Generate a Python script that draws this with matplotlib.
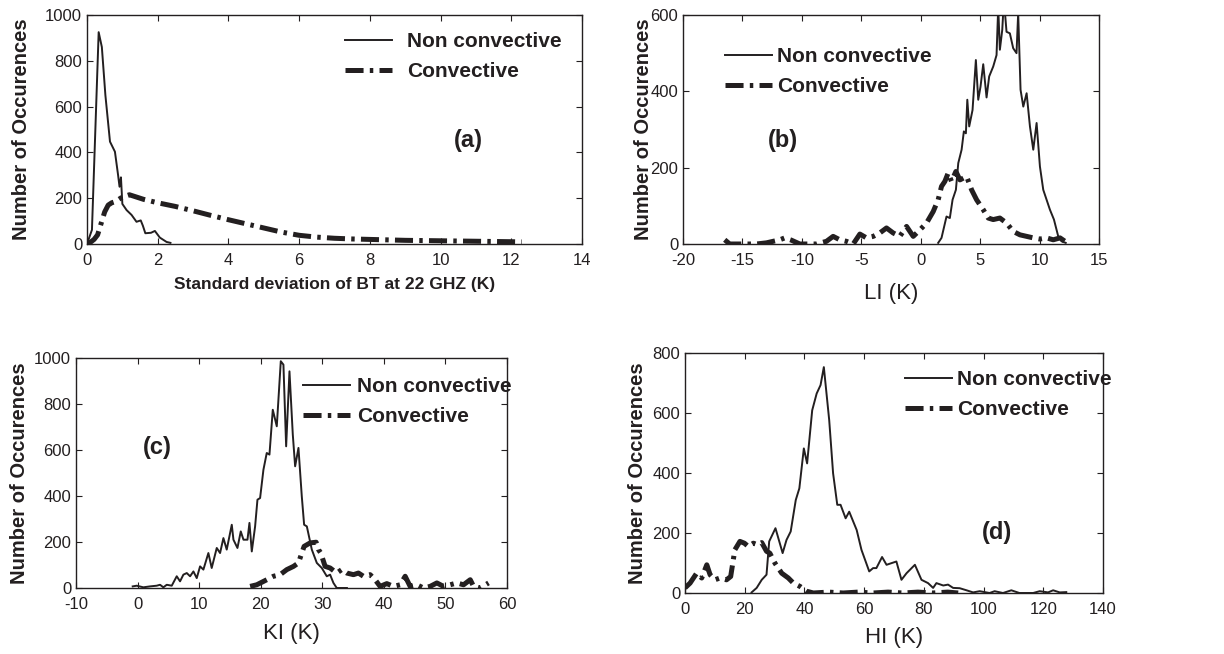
import matplotlib
matplotlib.use("Agg")
import matplotlib.pyplot as plt

plt.rcParams['font.family'] = ['Liberation Sans', 'DejaVu Sans']
plt.rcParams['lines.scale_dashes'] = False
plt.rcParams['axes.unicode_minus'] = False

INK = '#231f20'
W, H = 1224, 654

# ---- (a) standard deviation of BT at 22 GHz ----
sd_non_x = [0.0, 0.14, 0.33, 0.42, 0.52, 0.65, 0.79, 0.88, 0.92, 0.96, 1.0, 1.12,
            1.26, 1.40, 1.52, 1.58, 1.65, 1.81, 1.92, 2.06, 2.25, 2.36]
sd_non_y = [0, 62, 925, 860, 650, 447, 403, 300, 250, 291, 175, 148,
            127, 97, 103, 80, 47, 49, 57, 28, 9, 5]
sd_conv_x = [0, 0.1, 0.2, 0.3, 0.4, 0.5, 0.6, 0.7, 0.8, 0.9, 1.0, 1.2, 1.6, 2.0, 2.5,
             3.0, 3.5, 4.0, 4.5, 5.0, 5.5, 6.0, 6.5, 7.0, 7.5, 8.0, 8.5, 9.0, 9.5,
             10, 10.5, 11, 11.5, 12, 12.3]
sd_conv_y = [0, 8, 20, 40, 90, 140, 170, 180, 185, 195, 205, 215, 195, 180, 164,
             145, 125, 106, 88, 70, 52, 38, 30, 25, 22, 20, 18, 16, 15,
             14, 13, 12, 11, 10, 9]

# ---- (b) lifted index ----
li_non_x = [1.47, 1.75, 2.17, 2.45, 2.68, 2.96, 3.16, 3.44, 3.63, 3.80, 3.92, 4.08,
            4.36, 4.64, 4.84, 5.03, 5.26, 5.54, 5.76, 6.10, 6.38, 6.52, 6.66, 6.86,
            7.0, 7.22, 7.50, 7.78, 8.06, 8.2, 8.40, 8.63, 8.91, 9.19, 9.47, 9.75,
            10.03, 10.31, 10.59, 10.87, 11.21, 11.57, 11.86, 12.2]
li_non_y = [3, 16, 72, 68, 116, 142, 212, 247, 295, 290, 378, 308,
            351, 482, 378, 412, 471, 384, 439, 465, 495, 620, 509, 561,
            640, 556, 552, 513, 500, 605, 404, 360, 395, 308, 247, 317,
            203, 142, 116, 90, 64, 20, 7, 3]
li_conv_x = [-16.49, -16.07, -14.95, -13.83, -12.98, -11.86, -11.44, -10.88, -10.17,
             -8.77, -7.93, -7.37, -6.81, -6.25, -5.68, -5.12, -4.56, -4.0, -3.44,
             -2.88, -2.32, -1.76, -1.19, -0.63, -0.07, 0.49, 1.05, 1.47, 1.75, 2.03,
             2.31, 2.59, 2.96, 3.30, 3.86, 4.28, 4.70, 5.26, 5.68, 6.10, 6.66, 7.22,
             7.78, 8.35, 8.91, 9.47, 10.03, 10.59, 11.15, 11.72, 12.28]
li_conv_y = [11, 0, 0, 0, 3, 11, 16, 10, 0,
             0, 7, 20, 11, 7, 0, 26, 16, 20, 29,
             42, 29, 20, 46, 20, 37, 55, 85, 116, 151, 164,
             186, 164, 190, 168, 177, 142, 116, 90, 68, 64, 68, 55,
             33, 24, 20, 16, 13, 16, 11, 16, 4]

# ---- (c) K index ----
ki_non_x = [-0.79, -0.14, 0.94, 2.03, 3.11, 3.65, 4.19, 4.74, 5.55, 6.36, 6.90, 7.44,
            7.99, 8.53, 9.07, 9.61, 10.15, 10.69, 11.5, 12.04, 12.86, 13.40, 13.94,
            14.48, 15.30, 15.57, 16.22, 16.76, 17.2, 17.85, 18.17, 18.55, 19.09,
            19.47, 19.9, 20.44, 20.98, 21.42, 21.96, 22.61, 23.26, 23.69, 24.13,
            24.67, 25.21, 25.59, 26.13, 26.67, 27.05, 27.49, 28.30, 29.11, 29.92,
            30.73, 31.27, 31.81, 32.35, 34.0]
ki_non_y = [7, 10, 3, 7, 10, 14, 3, 14, 10, 51, 29, 58,
            65, 51, 72, 43, 94, 80, 152, 87, 174, 152, 217,
            167, 275, 210, 174, 246, 210, 210, 283, 159, 268,
            384, 391, 514, 587, 580, 775, 703, 986, 971, 616,
            942, 667, 529, 609, 399, 275, 268, 167, 109, 87,
            51, 58, 22, 0, 0]
ki_conv_x = [18.28, 19.36, 20.99, 22.07, 23.15, 24.24, 25.32, 26.13, 26.67, 27.05,
             28.02, 29.0, 29.38, 29.76, 30.46, 31.27, 32.35, 33.16, 33.98, 35.06,
             35.87, 36.68, 37.77, 38.58, 39.39, 40.48, 41.56, 42.65, 43.46, 44.27,
             45.36, 46.44, 47.52, 48.61, 49.69, 50.77, 51.86, 52.94, 54.03, 54.57,
             55.65, 57.0]
ki_conv_y = [7, 14, 36, 51, 58, 80, 94, 109, 152, 181,
             196, 199, 167, 152, 94, 87, 65, 80, 65, 58,
             65, 51, 58, 36, 7, 19, 7, 14, 51, 7,
             14, 0, 7, 22, 7, 14, 22, 14, 36, 7,
             0, 22]

# ---- (d) humidity index ----
hi_non_x = [22.3, 24.0, 25.7, 27.3, 28.2, 30.3, 32.7, 34.0, 35.4, 37.1, 38.3, 39.8,
            40.9, 42.6, 44.1, 45.4, 46.5, 48.3, 49.6, 51.0, 52.1, 53.8, 55.0, 57.5,
            59.1, 61.7, 63.0, 64.1, 66.0, 67.5, 70.8, 72.5, 74.2, 77.0, 79.2, 81.4,
            83.1, 84.2, 86.5, 88.1, 89.8, 92.0, 94.3, 96.5, 98.7, 102, 103.7, 106.5,
            109.3, 112, 116.6, 118.8, 121.6, 123.3, 125.5, 127.7]
hi_non_y = [2, 17, 44, 61, 172, 216, 133, 177, 205, 310, 349, 482,
            432, 609, 665, 693, 753, 576, 399, 294, 294, 249, 271, 210,
            144, 72, 83, 83, 120, 94, 105, 44, 66, 94, 44, 33,
            17, 33, 25, 28, 17, 16, 9, 2, 6, 0, 6, 0,
            9, 0, 0, 6, 2, 9, 2, 3]
hi_conv_x = [0, 1.7, 3.9, 5.6, 7.3, 8.4, 10.0, 11.7, 13.9, 15.3, 16.7, 18.4, 19.9,
             21.2, 22.9, 24.2, 25.7, 27.3, 28.4, 30.1, 32.4, 34.6, 36.3, 38.5, 40.7,
             43.0, 48.0, 53.0, 58.0, 63.0, 68.0, 73.0, 78.0, 83.0, 88.0, 91.5]
hi_conv_y = [17, 33, 66, 50, 94, 61, 44, 50, 44, 55, 144, 172, 166,
             155, 166, 161, 168, 139, 133, 100, 66, 50, 33, 22, 6,
             0, 3, 0, 3, 0, 3, 0, 3, 0, 3, 0]

LEGEND_LABELS = ['Non convective', 'Convective']
YLABEL = 'Number of Occurences'

panels = [
    dict(rect=(87, 15, 582, 244), xlim=(0, 14), xticks=range(0, 15, 2),
         ylim=(0, 1000), yticks=range(0, 1001, 200),
         non=(sd_non_x, sd_non_y), conv=(sd_conv_x, sd_conv_y),
         xlabel='Standard deviation of BT at 22 GHZ (K)', xl_bold=True,
         xl_y=-0.144, yl_x=-0.114, leg=(0.521, 0.925), textpad=0.72,
         tag='(a)', tag_xy=(0.770, 0.454)),
    dict(rect=(683, 15, 1099, 244), xlim=(-20, 15), xticks=range(-20, 16, 5),
         ylim=(0, 600), yticks=range(0, 601, 200),
         non=(li_non_x, li_non_y), conv=(li_conv_x, li_conv_y),
         xlabel='LI (K)', xl_bold=False,
         xl_y=-0.170, yl_x=-0.073, leg=(0.101, 0.860), textpad=0.25,
         tag='(b)', tag_xy=(0.240, 0.454)),
    dict(rect=(76, 358, 507, 588), xlim=(-10, 60), xticks=range(-10, 61, 10),
         ylim=(0, 1000), yticks=range(0, 1001, 200),
         non=(ki_non_x, ki_non_y), conv=(ki_conv_x, ki_conv_y),
         xlabel='KI (K)', xl_bold=False,
         xl_y=-0.152, yl_x=-0.110, leg=(0.527, 0.917), textpad=0.33,
         tag='(c)', tag_xy=(0.188, 0.609)),
    dict(rect=(685, 353, 1103, 593), xlim=(0, 140), xticks=range(0, 141, 20),
         ylim=(0, 800), yticks=range(0, 801, 200),
         non=(hi_non_x, hi_non_y), conv=(hi_conv_x, hi_conv_y),
         xlabel='HI (K)', xl_bold=False,
         xl_y=-0.142, yl_x=-0.090, leg=(0.526, 0.929), textpad=0.25,
         tag='(d)', tag_xy=(0.746, 0.25)),
]

fig = plt.figure(figsize=(W / 100, H / 100), dpi=100)

for p in panels:
    x0, y0, x1, y1 = p['rect']
    ax = fig.add_axes([x0 / W, (H - y1) / H, (x1 - x0) / W, (y1 - y0) / H])
    ax.plot(*p['non'], color=INK, lw=1.4, label=LEGEND_LABELS[0])
    ax.plot(*p['conv'], color=INK, lw=3.6, linestyle=(0, (13, 4.5, 2.5, 4.5)),
            label=LEGEND_LABELS[1])
    ax.set_xlim(*p['xlim'])
    ax.set_ylim(*p['ylim'])
    ax.set_xticks(list(p['xticks']))
    ax.set_yticks(list(p['yticks']))
    ax.tick_params(direction='in', top=True, right=True, length=4, width=0.8,
                   labelsize=12, labelcolor=INK, color=INK)
    ax.tick_params(axis='x', pad=6.5)
    ax.tick_params(axis='y', pad=3.5)
    for s in ax.spines.values():
        s.set_linewidth(1.0)
        s.set_color(INK)
    if p['xl_bold']:
        ax.set_xlabel(p['xlabel'], fontsize=12.5, fontweight='bold', color=INK, va='top')
    else:
        ax.set_xlabel(p['xlabel'], fontsize=16, color=INK, va='top')
    ax.xaxis.set_label_coords(0.5, p['xl_y'])
    ax.set_ylabel(YLABEL, fontsize=14.5, fontweight='bold', color=INK)
    ax.yaxis.set_label_coords(p['yl_x'], 0.5)
    ax.legend(loc='upper left', bbox_to_anchor=p['leg'], frameon=False,
              prop=dict(size=15, weight='bold'), handlelength=2.26,
              handletextpad=p['textpad'], labelspacing=0.53, borderpad=0,
              borderaxespad=0, labelcolor=INK)
    ax.text(*p['tag_xy'], p['tag'], transform=ax.transAxes, ha='center', va='center',
            fontsize=17, fontweight='bold', color=INK)

fig.savefig('out.png', dpi=100)
